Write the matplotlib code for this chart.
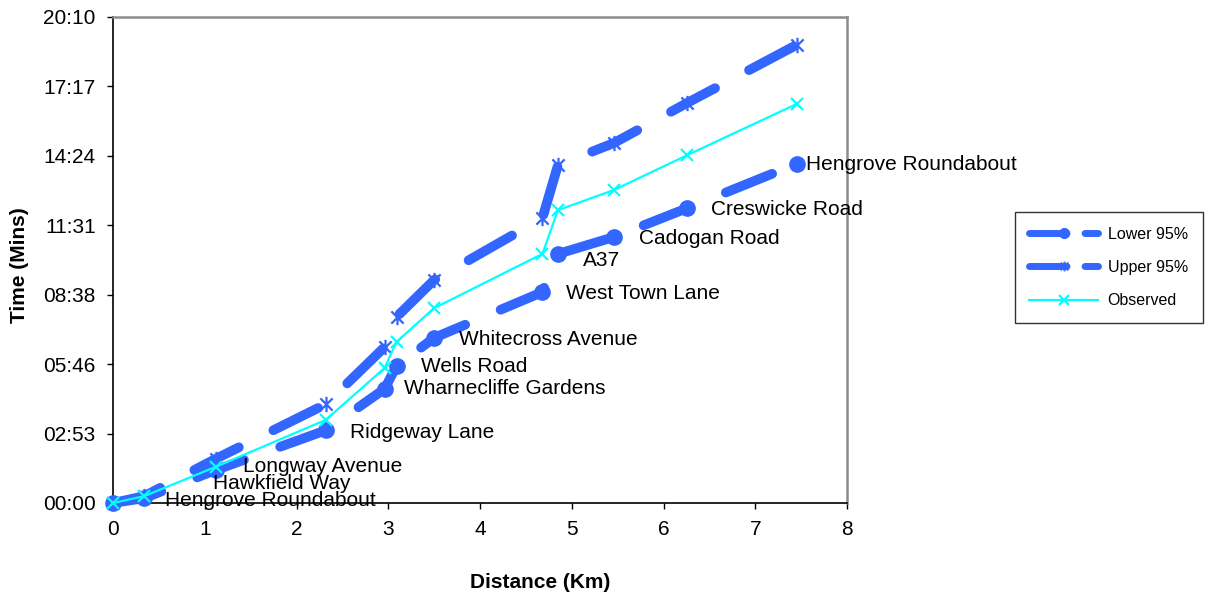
import matplotlib
matplotlib.use("Agg")
import matplotlib.pyplot as plt
from matplotlib.ticker import FixedLocator, FuncFormatter
from matplotlib.lines import Line2D
from matplotlib.path import Path

plt.rcParams['font.family'] = ['Liberation Sans', 'DejaVu Sans']

# ---- data ----
distance_km = [0, 0.34, 1.12, 2.32, 2.96, 3.09, 3.50, 4.68, 4.85, 5.46, 6.26, 7.45]
lower_95_s = [0, 12, 82, 181, 284, 341, 411, 525, 620, 662, 734, 844]
upper_95_s = [0, 17, 110, 246, 388, 463, 555, 709, 841, 896, 996, 1140]
observed_s = [0, 17, 90, 207, 336, 401, 485, 620, 729, 779, 866, 993]
stop_names = ["Hengrove Roundabout", "Hawkfield Way", "Longway Avenue", "Ridgeway Lane",
              "Wharnecliffe Gardens", "Wells Road", "Whitecross Avenue", "West Town Lane",
              "A37", "Cadogan Road", "Creswicke Road", "Hengrove Roundabout"]
x_ticks = [0, 1, 2, 3, 4, 5, 6, 7, 8]
y_major_s = 172.8          # Excel major unit 0.002 day
y_tick_count = 8

# label offsets (pixels) relative to the lower-95% points
label_offsets = [(52, 3), (69, 15), (27, 4), (24, -2), (19, 0), (24, -1), (25, -2),
                 (24, -1), (25, -7), (25, -1), (24, -1), (9, -1)]

BLUE = '#3366FF'
CYAN = '#00FFFF'

# Excel-style star marker: an x with a vertical bar
star = Path([(-1, -1), (1, 1), (-1, 1), (1, -1), (0, -1.25), (0, 1.25)],
            [Path.MOVETO, Path.LINETO] * 3)

fig = plt.figure(figsize=(12.06, 5.98), dpi=100)
ax = fig.add_axes([113/1206, 1 - 503/598, (847-113)/1206, (503-17)/598])

dash = (5.14, 3.96)
l1, = ax.plot(distance_km, lower_95_s, color=BLUE, lw=7, marker='o', ms=11,
              dashes=dash, dash_capstyle='round', solid_capstyle='round',
              clip_on=False, zorder=3)
l2, = ax.plot(distance_km, upper_95_s, color=BLUE, lw=7, marker=star, ms=11,
              mew=1.6, dashes=dash, dash_capstyle='round', clip_on=False, zorder=3)
l3, = ax.plot(distance_km, observed_s, color=CYAN, lw=1.6, marker='x', ms=9, mew=1.6,
              clip_on=False, zorder=4)

for name, xv, yv, (dx, dy) in zip(stop_names, distance_km, lower_95_s, label_offsets):
    ax.annotate(name, (xv, yv), xytext=(dx, dy), textcoords='offset pixels',
                ha='left', va='center', fontsize=15, color='black', zorder=5,
                annotation_clip=False)

ax.set_xlim(0, 8)
ax.set_ylim(0, y_major_s * (y_tick_count - 1))
ax.xaxis.set_major_locator(FixedLocator(x_ticks))
ax.yaxis.set_major_locator(FixedLocator([k * y_major_s for k in range(y_tick_count)]))

def fmt(v, pos):
    s = int(round(v))
    return f"{s // 60:02d}:{s % 60:02d}"

ax.yaxis.set_major_formatter(FuncFormatter(fmt))
ax.tick_params(axis='both', direction='out', length=4.5, width=1, labelsize=15,
               color='black', pad=8)

for side in ['left', 'bottom']:
    ax.spines[side].set_color('black')
    ax.spines[side].set_linewidth(1.2)
for side in ['top', 'right']:
    ax.spines[side].set_color('#8c8c8c')
    ax.spines[side].set_linewidth(1.8)

fig.text(540/1206, 1 - 582/598, 'Distance (Km)', ha='center', va='center',
         fontsize=15, fontweight='bold')
fig.text(20/1206, 1 - 265/598, 'Time (Mins)', ha='center', va='center',
         fontsize=15, fontweight='bold', rotation=90)

# legend proxies (thinner, as in the reference legend)
h1 = Line2D([], [], color=BLUE, lw=5, marker='o', ms=7, dashes=(5.4, 2.6),
            dash_capstyle='round')
h2 = Line2D([], [], color=BLUE, lw=5, marker=star, ms=7, mew=1.4, dashes=(5.4, 2.6),
            dash_capstyle='round')
h3 = Line2D([], [], color=CYAN, lw=1.6, marker='x', ms=7, mew=1.6)
leg = fig.legend(handles=[h1, h2, h3], labels=['Lower 95%', 'Upper 95%', 'Observed'],
                 loc='center',
                 bbox_to_anchor=(1015/1206, 1 - 322/598, 188/1206, 109/598),
                 mode='expand', fontsize=11.5, frameon=True, fancybox=False,
                 edgecolor='black', handlelength=4.3, labelspacing=1.15,
                 numpoints=1, borderaxespad=0, borderpad=0.9, handletextpad=0.6)
leg.get_frame().set_linewidth(1.0)

fig.savefig('out.png', dpi=100)
